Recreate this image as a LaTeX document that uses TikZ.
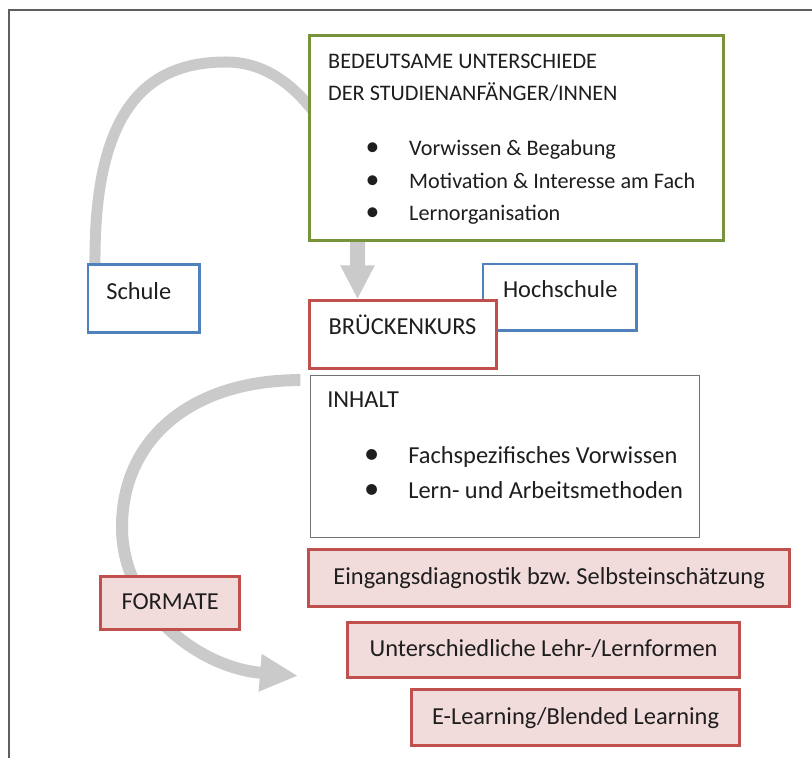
\documentclass[tikz,border=0pt]{standalone}
\usepackage{fontspec}
\setmainfont{Carlito}
\usetikzlibrary{arrows.meta, positioning, calc, backgrounds}
\frenchspacing

\definecolor{framegray}{RGB}{95,95,95}
\definecolor{boxgreen}{RGB}{119,147,60}
\definecolor{boxblue}{RGB}{79,129,189}
\definecolor{boxred}{RGB}{192,80,77}
\definecolor{boxpink}{RGB}{242,220,219}
\definecolor{bandgray}{RGB}{202,202,202}
\definecolor{textdark}{RGB}{30,30,30}

\newcommand{\listpoint}[1]{\hspace*{16.2pt}\makebox[12pt]{\scalebox{1.25}{\textbullet}}\hspace{12.3pt}#1}

\tikzset{
  box/.style={draw, fill=white, anchor=north west, inner ysep=0pt, align=flush left, text=textdark, font=\fontsize{12.2}{17.5}\selectfont},
  greenbox/.style={box, draw=boxgreen, line width=1.5pt, font=\fontsize{11.1}{16.25}\selectfont},
  bluebox/.style={box, draw=boxblue, line width=1.3pt},
  redbox/.style={box, draw=boxred, line width=1.4pt},
  graybox/.style={box, draw=black!55, line width=0.6pt},
  pinkbox/.style={box, draw=boxred, fill=boxpink, line width=1.4pt, inner xsep=0pt, align=flush center},
  band/.style={draw=bandgray, line width=5.5pt},
  blockarrow/.style={draw=bandgray, line width=7.5pt, -{Triangle[width=16pt, length=17pt]}},
}

\begin{document}
\begin{tikzpicture}[x=0.5pt, y=-0.5pt]
\useasboundingbox (0,0) rectangle (812,758);

% Frame
\draw[framegray, line width=0.75pt] (9,758) |- (812,10);

% Boxes
\node[greenbox, inner xsep=9.35pt, text width=188.3pt, text height=16.35pt, text depth=86.15pt] (unterschiede) at (308,34)
  {BEDEUTSAME UNTERSCHIEDE\\DER STUDIENANFÄNGER/INNEN\\[11.25pt]
   \listpoint{Vorwissen \& Begabung}\\
   \listpoint{Motivation \& Interesse am Fach}\\
   \listpoint{Lernorganisation}};
\node[bluebox, inner xsep=9.15pt, text width=37.5pt, text height=17.65pt, text depth=16.35pt] (schule) at (86.7,263) {Schule};
\node[bluebox, inner xsep=10pt, text width=56.65pt, text height=17pt, text depth=16.3pt] (hochschule) at (481.7,262.7) {Hochschule};
\node[redbox, inner xsep=9.5pt, text width=74.35pt, text height=17pt, text depth=17pt] (bruecke) at (308.3,299.3) {BRÜCKENKURS};
\node[graybox, inner xsep=8.35pt, text width=177.8pt, text height=15.85pt, text depth=65pt] (inhalt) at (310,375)
  {INHALT\\[10.8pt]
   \listpoint{Fachspezifisches Vorwissen}\\
   \listpoint{Lern- und Arbeitsmethoden}};

% Formate
\node[pinkbox, minimum width=240.5pt, text height=17.5pt, text depth=10.85pt] (diagnostik) at (307.3,548.3) {Eingangsdiagnostik bzw. Selbsteinschätzung};
\node[pinkbox, minimum width=196.15pt, text height=17.15pt, text depth=10.5pt] (lehrformen) at (346,620.7) {Unterschiedliche Lehr-/Lernformen};
\node[pinkbox, minimum width=164.15pt, text height=17.5pt, text depth=10.35pt] (elearning) at (410,688.3) {E-Learning/Blended Learning};
\node[pinkbox, minimum width=69.5pt, text height=16.65pt, text depth=9.7pt] (formate) at (99.3,575) {FORMATE};

% Arrows
\begin{scope}[on background layer]
  \draw[band] ($(schule.north west)+(8.3,0)$) .. controls (94,105) and (150,62) .. (226,62)
    .. controls (265,62) and (295,85) .. ($(unterschiede.north west)+(12,86)$);
  \draw[blockarrow] ($(unterschiede.south west)+(49.5,0)$) -- ($(bruecke.north west)+(49.2,0)$);
  \draw[band, line width=6pt, -{Triangle[width=17.5pt, length=19pt]}] ($(bruecke.south west)+(-8,10)$)
    .. controls (190,380) and (122,440) .. (122,527)
    .. controls (122,610) and (200,668) .. ($(lehrformen.south west)+(-48,-3)$);
\end{scope}
\end{tikzpicture}
\end{document}
